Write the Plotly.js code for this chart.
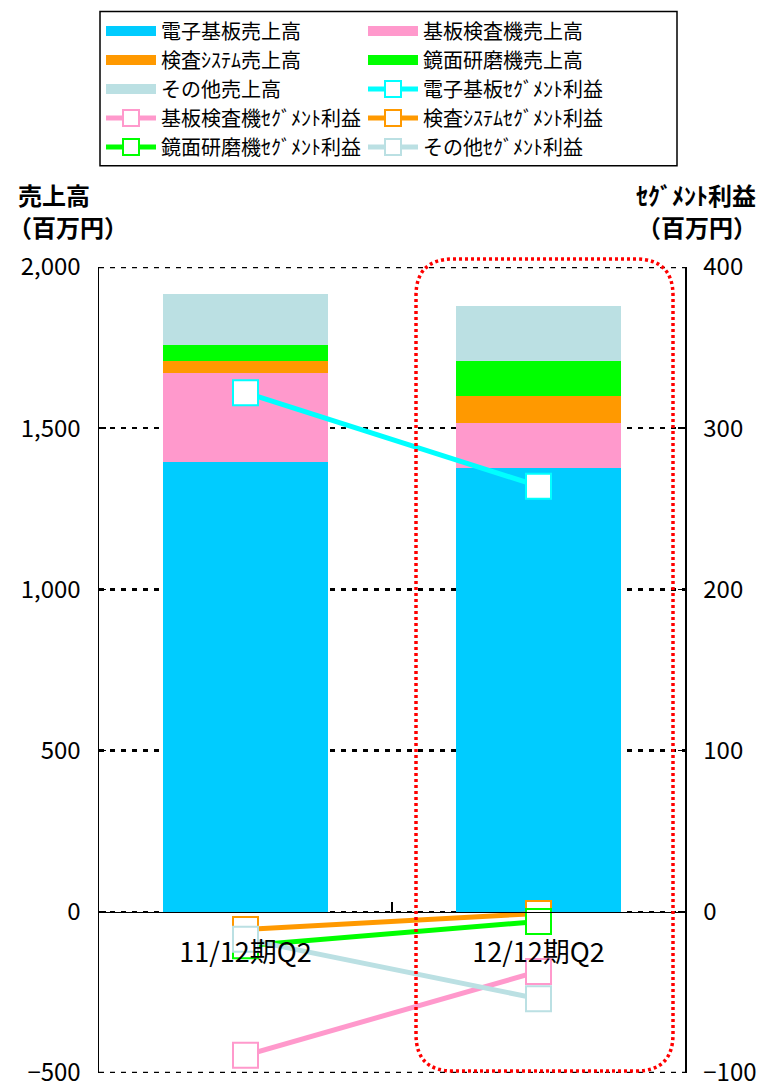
<!DOCTYPE html>
<html>
<head>
<meta charset="utf-8">
<script src="https://cdn.plot.ly/plotly-3.0.1.min.js"></script>
<style>html,body{margin:0;padding:0;background:#fff;}#chart{width:760px;height:1090px;}</style>
</head>
<body>
<div id="chart"></div>
<script>
// ---- data ----
const categories = ['11/12期Q2', '12/12期Q2'];

const salesNames = ['電子基板売上高', '基板検査機売上高', '検査ｼｽﾃﾑ売上高', '鏡面研磨機売上高', 'その他売上高'];
const salesElectronic = [1394, 1377];
const salesInspection = [276, 140];
const salesSystem = [40, 82];
const salesPolishing = [49, 111];
const salesOther = [157, 169];

const profitNames = ['電子基板ｾｸﾞﾒﾝﾄ利益', '基板検査機ｾｸﾞﾒﾝﾄ利益', '検査ｼｽﾃﾑｾｸﾞﾒﾝﾄ利益', '鏡面研磨機ｾｸﾞﾒﾝﾄ利益', 'その他ｾｸﾞﾒﾝﾄ利益'];
const profitElectronic = [322, 264];
const profitInspection = [-89, -37];
const profitSystem = [-11, -1];
const profitPolishing = [-21, -6];
const profitOther = [-17, -54];

const leftTicks = [-500, 0, 500, 1000, 1500, 2000];
const rightTicks = [-100, 0, 100, 200, 300, 400];

const barColors = ['#00CCFF', '#FF99CC', '#FF9900', '#00FF00', '#BBE0E3'];
const lineColors = ['#00FFFF', '#FF99CC', '#FF9900', '#00FF00', '#BBE0E3'];

const salesSeries = [salesElectronic, salesInspection, salesSystem, salesPolishing, salesOther];
const profitSeries = [profitElectronic, profitInspection, profitSystem, profitPolishing, profitOther];

const FONT = '"Noto Sans CJK JP", "Noto Sans", sans-serif';

const traces = [];
// stacked bars (legend shown through swatch entries below)
salesSeries.forEach((vals, i) => {
  traces.push({
    type: 'bar', x: categories, y: vals, name: salesNames[i],
    marker: {color: barColors[i], line: {width: 0}},
    width: 0.563, yaxis: 'y', hoverinfo: 'skip', showlegend: false
  });
});
// legend swatches for the bar series (wide rectangle look)
salesSeries.forEach((vals, i) => {
  traces.push({
    type: 'scatter', mode: 'lines', x: [null], y: [null], name: salesNames[i],
    line: {color: barColors[i], width: 14}, yaxis: 'y', hoverinfo: 'skip'
  });
});
profitSeries.forEach((vals, i) => {
  traces.push({
    type: 'scatter', mode: 'lines+markers', x: categories, y: vals, name: profitNames[i],
    line: {color: lineColors[i], width: 5},
    marker: {symbol: 'square', size: 25, color: '#FFFFFF', line: {color: lineColors[i], width: 2}},
    yaxis: 'y2', cliponaxis: false, hoverinfo: 'skip'
  });
});

// plot area in pixels
const L = 99, R = 685, T = 262, B = 1073;
const px2x = p => (p - L) / (R - L);
const px2y = p => (B - p) / (B - T);

function roundRect(x0p, y0p, x1p, y1p, r) {
  const x0 = px2x(x0p), x1 = px2x(x1p), yt = px2y(y0p), yb = px2y(y1p);
  const rx = r / (R - L), ry = r / (B - T);
  return `M${x0 + rx},${yt} L${x1 - rx},${yt} Q${x1},${yt} ${x1},${yt - ry} ` +
         `L${x1},${yb + ry} Q${x1},${yb} ${x1 - rx},${yb} ` +
         `L${x0 + rx},${yb} Q${x0},${yb} ${x0},${yb + ry} ` +
         `L${x0},${yt - ry} Q${x0},${yt} ${x0 + rx},${yt} Z`;
}

const gridDash = '5px,6px';
const edgeGrid = [leftTicks[0], leftTicks[leftTicks.length - 1]].map(v => ({
  type: 'line', xref: 'paper', yref: 'y', x0: 0, x1: 1, y0: v, y1: v,
  line: {color: '#000', width: 2.5, dash: gridDash}, layer: 'below'
}));

const layout = {
  width: 760, height: 1090,
  margin: {l: L, r: 760 - R, t: T, b: 1090 - B, pad: 0},
  paper_bgcolor: '#fff', plot_bgcolor: 'rgba(0,0,0,0)',
  font: {family: FONT, color: '#000', size: 20},
  barmode: 'stack', bargap: 0.437,
  showlegend: true,
  legend: {
    orientation: 'h', x: px2x(101), y: px2y(5), xanchor: 'left', yanchor: 'top',
    xref: 'paper', yref: 'paper', traceorder: 'normal',
    font: {family: FONT, size: 20, color: '#000'},
    bgcolor: 'rgba(0,0,0,0)', borderwidth: 0, itemwidth: 50, itemclick: false,
    entrywidth: 197, entrywidthmode: 'pixels',
    tracegroupgap: 0
  },
  xaxis: {
    type: 'category', range: [-0.5, 1.5], anchor: 'free', position: 0.2,
    showline: true, linecolor: '#000', linewidth: 1.5,
    ticks: 'inside', tickson: 'boundaries', ticklen: 10, tickcolor: '#000', tickwidth: 1.5,
    showgrid: false, zeroline: false,
    tickfont: {family: FONT, size: 27, color: '#000'}, ticklabelstandoff: 16,
    fixedrange: true
  },
  yaxis: {
    range: [-500, 2000], tickmode: 'array', tickvals: leftTicks, tickformat: ',d',
    showline: true, linecolor: '#000', linewidth: 1.5,
    ticks: 'inside', ticklen: 7, tickcolor: '#000', tickwidth: 1.5,
    showgrid: true, gridcolor: '#000', gridwidth: 2.5, griddash: gridDash,
    zeroline: false, ticklabeloverflow: 'allow',
    tickfont: {family: FONT, size: 24, color: '#000'}, ticklabelstandoff: 12,
    fixedrange: true
  },
  yaxis2: {
    range: [-100, 400], tickmode: 'array', tickvals: rightTicks, overlaying: 'y', side: 'right',
    showline: true, linecolor: '#000', linewidth: 1.5,
    ticks: 'inside', ticklen: 7, tickcolor: '#000', tickwidth: 1.5,
    showgrid: false, zeroline: false, ticklabeloverflow: 'allow',
    tickfont: {family: FONT, size: 24, color: '#000'}, ticklabelstandoff: 12,
    fixedrange: true
  },
  shapes: edgeGrid.concat([
    {type: 'rect', xref: 'paper', yref: 'paper', x0: px2x(100), x1: px2x(677), y0: px2y(5), y1: px2y(160),
     line: {color: '#000', width: 1.5}, fillcolor: 'rgba(0,0,0,0)', layer: 'above'},
    {type: 'path', xref: 'paper', yref: 'paper', path: roundRect(416, T - 8, 673, B - 2, 37),
     line: {color: '#FF0000', width: 3.5, dash: '3px,3px'}, fillcolor: 'rgba(0,0,0,0)', layer: 'above'}
  ]),
  annotations: [
    {xref: 'paper', yref: 'paper', x: px2x(16), y: px2y(189), xanchor: 'left', yanchor: 'middle',
     text: '<b>売上高</b>', showarrow: false, font: {family: FONT, size: 24, color: '#000'}},
    {xref: 'paper', yref: 'paper', x: px2x(6), y: px2y(221), xanchor: 'left', yanchor: 'middle',
     text: '<b>（百万円）</b>', showarrow: false, font: {family: FONT, size: 24, color: '#000'}},
    {xref: 'paper', yref: 'paper', x: px2x(758), y: px2y(189), xanchor: 'right', yanchor: 'middle',
     text: '<b>ｾｸﾞﾒﾝﾄ利益</b>', showarrow: false, font: {family: FONT, size: 24, color: '#000'}},
    {xref: 'paper', yref: 'paper', x: px2x(759), y: px2y(221), xanchor: 'right', yanchor: 'middle',
     text: '<b>（百万円）</b>', showarrow: false, font: {family: FONT, size: 24, color: '#000'}}
  ]
};

Plotly.newPlot('chart', traces, layout, {displayModeBar: false, staticPlot: true});
</script>
</body>
</html>
